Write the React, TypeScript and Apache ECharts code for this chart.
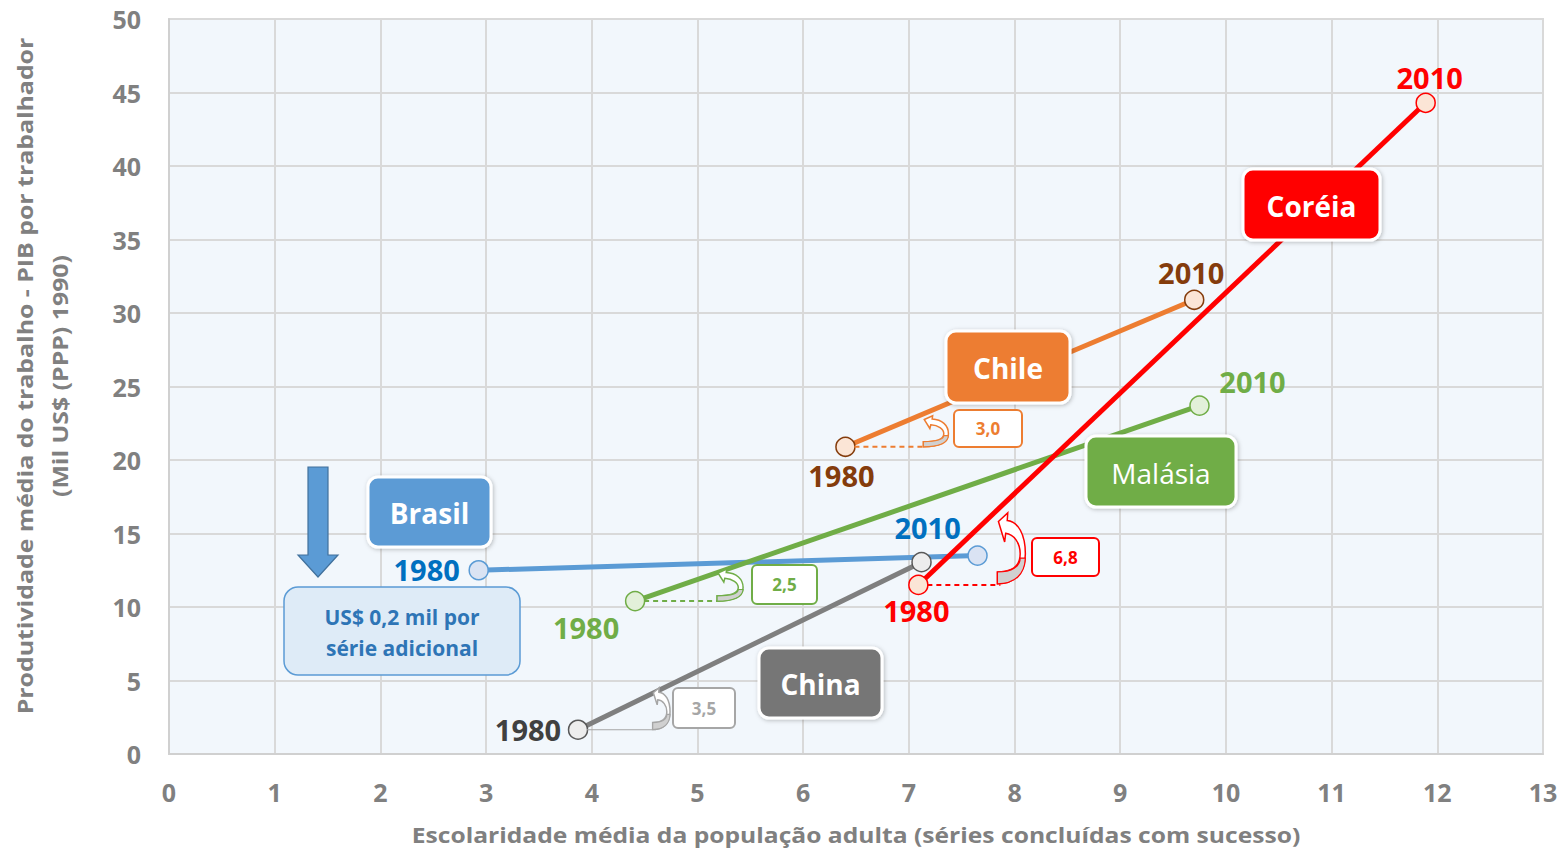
import React, { useEffect, useRef } from "react";
import * as echarts from "echarts";

// ---- data ----
const xTickValues = [0, 1, 2, 3, 4, 5, 6, 7, 8, 9, 10, 11, 12, 13];
const yTickValues = [0, 5, 10, 15, 20, 25, 30, 35, 40, 45, 50];
const years = ["1980", "2010"];
const countries = ["Brasil", "China", "Malásia", "Chile", "Coréia"];
const brasil = [[2.93, 12.5], [7.65, 13.5]];
const china = [[3.87, 1.65], [7.12, 13.05]];
const malasia = [[4.41, 10.4], [9.75, 23.7]];
const chile = [[6.4, 20.9], [9.7, 30.9]];
const coreia = [[7.09, 11.5], [11.89, 44.3]];
const gainLabels = ["3,5", "2,5", "3,0", "6,8"]; // China, Malásia, Chile, Coréia
const brasilNote = ["US$ 0,2 mil por", "série adicional"];
const xTitle = "Escolaridade média da população adulta (séries concluídas com sucesso)";
const yTitle = ["Produtividade média do trabalho - PIB por trabalhador", "(Mil US$ (PPP) 1990)"];

const FONT = "'Open Sans', 'Noto Sans', sans-serif";

function arrowPaths(w: number, h: number) {
  const sx = (v: number) => ((v * w) / 28).toFixed(2);
  const sy = (v: number) => ((v * h) / 34).toFixed(2);
  const p = (x: number, y: number) => `${sx(x)} ${sy(y)}`;
  const main =
    `M ${p(2, 4)} L ${p(11, 0)} L ${p(10.5, 3.5)} ` +
    `C ${p(21, 4)} ${p(28, 10)} ${p(28, 19)} ` +
    `C ${p(28, 28)} ${p(18, 33)} ${p(1, 33)} ` +
    `L ${p(1, 27.5)} ` +
    `C ${p(15, 27.5)} ${p(23, 25)} ${p(23, 19)} ` +
    `C ${p(23, 14)} ${p(17, 10)} ${p(9, 9.5)} ` +
    `L ${p(8, 13.5)} Z`;
  const under =
    `M ${p(1, 27.5)} C ${p(15, 27.5)} ${p(23, 25)} ${p(23, 21)} L ${p(28, 21)} ` +
    `C ${p(27.5, 28.5)} ${p(18, 33)} ${p(1, 33)} Z`;
  return { main, under };
}

export default function App() {
  const ref = useRef<HTMLDivElement>(null);

  useEffect(() => {
    if (!ref.current) return;
    const chart = echarts.init(ref.current, undefined, { renderer: "svg" });

    const yearLabel = (color: string, offsets: ([number, number] | null)[]) =>
      offsets.map((o) =>
        o
          ? {
              show: true,
              position: "inside",
              offset: o,
              formatter: (p: any) => years[p.dataIndex],
              color,
              fontFamily: FONT,
              fontWeight: "bold",
              fontSize: 29,
            }
          : { show: false }
      );

    const mk = (
      name: string,
      data: number[][],
      line: string,
      fill: string,
      border: string,
      labelColor: string,
      offsets: ([number, number] | null)[]
    ) => {
      const labels = yearLabel(labelColor, offsets);
      return {
        type: "line",
        name,
        data: data.map((d, i) => ({ value: d, label: labels[i] })),
        symbol: "circle",
        symbolSize: 19,
        lineStyle: { color: line, width: 5 },
        itemStyle: { color: fill, borderColor: border, borderWidth: 1.5 },
        emphasis: { disabled: true },
      };
    };

    chart.setOption({
      animation: false,
      grid: {
        left: 169,
        top: 19,
        width: 1374,
        height: 735,
        show: true,
        backgroundColor: "#F2F7FC",
        borderColor: "#D9D9D9",
        borderWidth: 2,
      },
      xAxis: {
        type: "value",
        min: xTickValues[0],
        max: xTickValues[xTickValues.length - 1],
        interval: 1,
        axisLine: { show: true, lineStyle: { color: "#D0D0D0", width: 2 } },
        axisTick: { show: false },
        splitLine: { show: true, lineStyle: { color: "#D9D9D9", width: 2 } },
        axisLabel: {
          color: "#808080",
          fontFamily: FONT,
          fontWeight: "bold",
          fontSize: 25,
          margin: 25,
        },
      },
      yAxis: {
        type: "value",
        min: yTickValues[0],
        max: yTickValues[yTickValues.length - 1],
        interval: 5,
        axisLine: { show: true, lineStyle: { color: "#D0D0D0", width: 2 } },
        axisTick: { show: false },
        splitLine: { show: true, lineStyle: { color: "#D9D9D9", width: 2 } },
        axisLabel: {
          color: "#808080",
          fontFamily: FONT,
          fontWeight: "bold",
          fontSize: 25,
          margin: 28,
        },
      },
      series: [
        mk(countries[0], brasil, "#5B9BD5", "#DAE3F3", "#5B9BD5", "#0070C0", [[-52, -1], [-50, -28]]),
        mk(countries[1], china, "#7F7F7F", "#EDEDED", "#595959", "#404040", [[-50, 0], null]),
        mk(countries[2], malasia, "#70AD47", "#E2F0D9", "#70AD47", "#70AD47", [[-49, 26], [53, -24]]),
        mk(countries[3], chile, "#ED7D31", "#FBE5D6", "#843C0C", "#843C0C", [[-4, 29], [-3, -27]]),
        mk(countries[4], coreia, "#FF0000", "#FBE5D6", "#FF0000", "#FF0000", [[-2, 26], [4, -25]]),
      ],
    });

    const px = (d: number[]) => chart.convertToPixel({ gridIndex: 0 }, d) as number[];

    // annotations anchored on the 1980 points
    const anchors = [
      { pt: px(china[0]), color: "#A6A6A6", dash: false, dx: 74, w: 18, h: 43, gain: gainLabels[0], box: [673, 688, 62, 40] },
      { pt: px(malasia[0]), color: "#70AD47", dash: true, dx: 81, w: 27, h: 33, gain: gainLabels[1], box: [752, 565, 65, 39] },
      { pt: px(chile[0]), color: "#ED7D31", dash: true, dx: 77, w: 26, h: 32, gain: gainLabels[2], box: [954, 410, 68, 37] },
      { pt: px(coreia[0]), color: "#FF0000", dash: true, dx: 78, w: 29, h: 73, gain: gainLabels[3], box: [1032, 538, 67, 38] },
    ];

    const graphics: any[] = [];
    anchors.forEach((a, i) => {
      const { main, under } = arrowPaths(a.w, a.h);
      const nm = "curvArrow" + i;
      const nmU = "curvArrowU" + i;
      echarts.graphic.registerShape(nm, echarts.graphic.extendPath(main, {}) as any);
      echarts.graphic.registerShape(nmU, echarts.graphic.extendPath(under, {}) as any);
      const x0 = a.pt[0] + a.dx;
      const y0 = a.pt[1] + 1 - a.h;
      graphics.push({
        type: "line",
        z: 50,
        shape: { x1: a.pt[0] + 9, y1: a.pt[1], x2: x0 + 4, y2: a.pt[1] },
        style: { stroke: a.color, lineWidth: a.dash ? 2 : 1.2, lineDash: a.dash ? [5, 4] : null },
      });
      graphics.push({
        type: nm,
        z: 51,
        x: x0,
        y: y0,
        style: { fill: "#FFFFFF", stroke: a.color, lineWidth: 1.5 },
      });
      graphics.push({
        type: nmU,
        z: 52,
        x: x0,
        y: y0,
        style: { fill: "#D0D0D0", stroke: a.color, lineWidth: 1.2 },
      });
      const [bx, by, bw, bh] = a.box;
      graphics.push({
        type: "rect",
        z: 53,
        shape: { x: bx, y: by, width: bw, height: bh, r: 5 },
        style: { fill: "#FFFFFF", stroke: a.color, lineWidth: 2 },
      });
      graphics.push({
        type: "text",
        z: 54,
        x: bx + bw / 2,
        y: by + bh / 2,
        style: {
          text: a.gain,
          fill: a.color,
          font: `bold 17px ${FONT}`,
          align: "center",
          verticalAlign: "middle",
          textAlign: "center",
          textVerticalAlign: "middle",
        },
      });
    });

    // country label boxes
    const boxes = [
      { t: countries[0], x: 368, y: 477, w: 123, h: 70, c: "#5B9BD5", bold: true },
      { t: countries[1], x: 759, y: 648, w: 123, h: 70, c: "#767676", bold: true },
      { t: countries[2], x: 1086, y: 436, w: 150, h: 71, c: "#70AD47", bold: false },
      { t: countries[3], x: 946, y: 331, w: 124, h: 72, c: "#ED7D31", bold: true },
      { t: countries[4], x: 1243, y: 169, w: 137, h: 71, c: "#FF0000", bold: true },
    ];
    boxes.forEach((b) => {
      graphics.push({
        type: "rect",
        z: 60,
        shape: { x: b.x, y: b.y, width: b.w, height: b.h, r: 10 },
        style: {
          fill: b.c,
          stroke: "#FFFFFF",
          lineWidth: 3,
          shadowBlur: 4,
          shadowColor: "rgba(0,0,0,0.25)",
          shadowOffsetX: 1,
          shadowOffsetY: 1,
        },
      });
      graphics.push({
        type: "text",
        z: 61,
        x: b.x + b.w / 2,
        y: b.y + b.h / 2 + 1,
        style: {
          text: b.t,
          fill: "#FFFFFF",
          font: `${b.bold ? "bold" : "normal"} 28px ${FONT}`,
          align: "center",
          verticalAlign: "middle",
          textAlign: "center",
          textVerticalAlign: "middle",
        },
      });
    });

    // Brasil note + arrow
    graphics.push({
      type: "polygon",
      z: 60,
      shape: {
        points: [
          [308, 467],
          [328, 467],
          [328, 555],
          [338, 555],
          [318, 577],
          [298, 555],
          [308, 555],
        ],
      },
      style: { fill: "#5B9BD5", stroke: "#41719C", lineWidth: 1.2 },
    });
    graphics.push({
      type: "rect",
      z: 60,
      shape: { x: 284, y: 587, width: 236, height: 88, r: 14 },
      style: { fill: "#DEEBF7", stroke: "#5B9BD5", lineWidth: 1.5 },
    });
    brasilNote.forEach((t, i) => {
      graphics.push({
        type: "text",
        z: 61,
        x: 402,
        y: 617 + i * 31,
        style: {
          text: t,
          fill: "#2E75B6",
          font: `bold 21px ${FONT}`,
          align: "center",
          verticalAlign: "middle",
          textAlign: "center",
          textVerticalAlign: "middle",
        },
      });
    });

    // axis titles
    graphics.push({
      type: "text",
      z: 10,
      x: 856,
      y: 835,
      scaleX: 1.12,
      style: {
        text: xTitle,
        fill: "#808080",
        font: `bold 22px ${FONT}`,
        align: "center",
        verticalAlign: "middle",
        textAlign: "center",
        textVerticalAlign: "middle",
      },
    });
    yTitle.forEach((t, i) => {
      graphics.push({
        type: "text",
        z: 10,
        x: 25 + i * 35,
        y: 376,
        rotation: Math.PI / 2,
        scaleX: 1.13,
        style: {
          text: t,
          fill: "#808080",
          font: `bold 22px ${FONT}`,
          align: "center",
          verticalAlign: "middle",
          textAlign: "center",
          textVerticalAlign: "middle",
        },
      });
    });

    chart.setOption({ graphic: graphics });

    return () => chart.dispose();
  }, []);

  return (
    <div
      ref={ref}
      style={{ position: "fixed", left: 0, top: 0, width: 1567, height: 851, background: "#FFFFFF" }}
    />
  );
}
